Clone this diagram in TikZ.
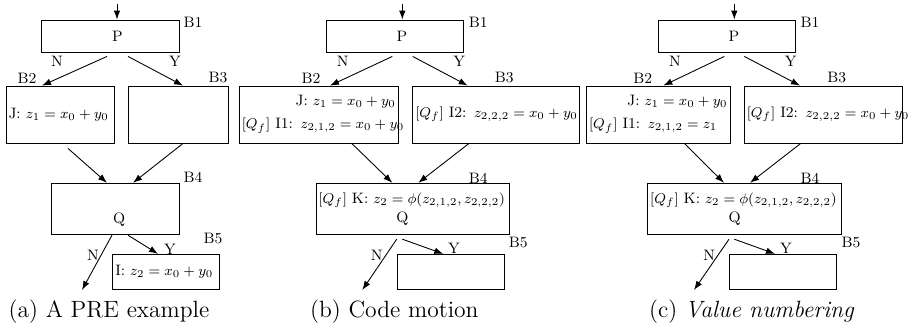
\documentclass[tikz,border=0pt]{standalone}
\usepackage{amsmath}
\usepackage{amssymb}
\usetikzlibrary{arrows.meta, calc, positioning}
\DeclareMathSizes{8.6}{8}{6}{5}
\tikzset{
  blk/.style={draw, line width=0.5pt, inner xsep=0.5mm, inner ysep=0pt, font=\fontsize{8.6}{11}\selectfont},
  blkl/.style={blk, align=left},
  blkr/.style={blk, align=right},
  arr/.style={-{Latex[length=1.8mm, width=1.3mm]}, line width=0.5pt},
  tag/.style={inner sep=0pt, font=\fontsize{8.6}{11}\selectfont},
  subcap/.style={inner sep=0pt, font=\fontsize{13.4}{16}\selectfont}
}

\begin{document}
\begin{tikzpicture}[x=0.02cm, y=-0.02cm]
  \useasboundingbox (0,0) rectangle (908,328);

  % (a) A PRE example
  \node[blk, minimum width=27.5mm, minimum height=6.4mm] (a1) at (110.3,36) {\hspace*{2.8mm}P};
  \node[blkl, text width=20.6mm, minimum height=11.4mm] (a2) at (60,114.5) {\mbox{J: $z_1 = x_0 + y_0$}};
  \node[blk, minimum width=20mm, minimum height=11.4mm] (a3) at (178,114.5) {};
  \node[blk, align=center, text width=24.5mm, minimum height=10.3mm] (a4) at (115.3,209) {\strut\\\hspace*{1.5mm}Q};
  \node[blkl, text width=20.3mm, minimum height=7mm] (a5) at (166,271.8) {\mbox{I: $z_2 = x_0 + y_0$}};
  \coordinate (a0) at (117,4);
  \coordinate (aN) at (82,290);
  \draw[arr] (a0) -- (a0 |- a1.north);
  \draw[arr] ($(a1.south)+(-3.3,4)$) -- ($(a2.north)+(-18,0)$);
  \draw[arr] ($(a1.south)+(17.7,4)$) -- ($(a3.north)+(5,0)$);
  \draw[arr] ($(a2.south)+(8,5)$) -- ($(a4.north)+(-8.3,0)$);
  \draw[arr] ($(a3.south)+(5,0)$) -- ($(a4.north)+(17.7,0)$);
  \draw[arr] ($(a4.south)+(-3.3,0)$) -- (aN);
  \draw[arr] ($(a4.south)+(12.7,0)$) -- ($(a5.north)+(-8,0)$);
  \node[tag] (aB1) at (193,22) {B1};
  \node[tag] (aB2) at (27,78) {B2};
  \node[tag] (aB3) at (218,78) {B3};
  \node[tag] (aB4) at (193,177) {B4};
  \node[tag] (aB5) at (213,239) {B5};
  \node[tag] (aN1) at (57,61) {N};
  \node[tag] (aY1) at (175,61) {Y};
  \node[tag] (aN2) at (93,255) {N};
  \node[tag] (aY2) at (170,249) {Y};
  \node[subcap] (acap) at (109,312) {(a) A PRE example};

  % (b) Code motion
  \node[blk, minimum width=27.4mm, minimum height=6.4mm] (b1) at (394.8,36) {\hspace*{2.8mm}P};
  \node[blkr, text width=30.8mm, minimum height=11.4mm] (b2) at (318.8,114.5)
    {\mbox{J: $z_1 = x_0 + y_0$}\\[2pt]\mbox{$[Q_f]$ I1: $z_{2,1,2} = x_0 + y_0$}};
  \node[blkl, text width=32.3mm, minimum height=11.4mm] (b3) at (496,114.5) {\mbox{$[Q_f]$ I2: $z_{2,2,2} = x_0 + y_0$}};
  \node[blkl, text width=37.7mm, minimum height=10.3mm] (b4) at (412.7,209)
    {\mbox{$[Q_f]$ K: $z_2 = \phi(z_{2,1,2}, z_{2,2,2})$}\\\hspace*{15.6mm}Q};
  \node[blk, minimum width=21.4mm, minimum height=7mm] (b5) at (450.8,271.8) {};
  \coordinate (b0) at (402.3,4);
  \coordinate (bN) at (362.3,290);
  \draw[arr] (b0) -- (b0 |- b1.north);
  \draw[arr] ($(b1.south)+(-2.5,4)$) -- ($(b2.north)+(11.2,0)$);
  \draw[arr] ($(b1.south)+(17.9,4)$) -- ($(b3.north)+(-28.3,0)$);
  \draw[arr] ($(b2.south)+(32.9,0)$) -- ($(b4.north)+(-20.4,0)$);
  \draw[arr] ($(b3.south)+(-27,0)$) -- ($(b4.north)+(5.6,0)$);
  \draw[arr] ($(b4.south)+(-16,4)$) -- (bN);
  \draw[arr] ($(b4.south)+(-10.4,4)$) -- ($(b5.north)+(-7.5,0)$);
  \node[tag] (bB1) at (478.3,22) {B1};
  \node[tag] (bB2) at (311,78) {B2};
  \node[tag] (bB3) at (504.3,78) {B3};
  \node[tag] (bB4) at (478.3,178) {B4};
  \node[tag] (bB5) at (518.3,243) {B5};
  \node[tag] (bN1) at (342.7,61) {N};
  \node[tag] (bY1) at (459.3,61) {Y};
  \node[tag] (bN2) at (376.7,255) {N};
  \node[tag] (bY2) at (454,248) {Y};
  \node[subcap] (bcap) at (394.3,312) {(b) Code motion};

  % (c) Value numbering
  \node[blk, minimum width=27.4mm, minimum height=6.4mm] (c1) at (727,36) {\hspace*{2.8mm}P};
  \node[blkl, text width=27.7mm, minimum height=11.4mm] (c2) at (658.3,114.5)
    {\hspace*{\fill}\mbox{J: $z_1 = x_0 + y_0$}\\[2pt]\mbox{$[Q_f]$ I1: $z_{2,1,2} = z_1$}};
  \node[blkl, text width=30.7mm, minimum height=11.4mm] (c3) at (823.5,114.5) {\mbox{$[Q_f]$ I2: $z_{2,2,2} = x_0 + y_0$}};
  \node[blkl, text width=37.8mm, minimum height=10.3mm] (c4) at (744.7,209)
    {\mbox{$[Q_f]$ K: $z_2 = \phi(z_{2,1,2}, z_{2,2,2})$}\\\hspace*{15.7mm}Q};
  \node[blk, minimum width=21.5mm, minimum height=7mm] (c5) at (783,271.8) {};
  \coordinate (c0) at (734.3,4);
  \coordinate (cN) at (694,290);
  \draw[arr] (c0) -- (c0 |- c1.north);
  \draw[arr] ($(c1.south)+(-2.7,4)$) -- ($(c2.north)+(5,0)$);
  \draw[arr] ($(c1.south)+(17.3,4)$) -- ($(c3.north)+(-23.5,0)$);
  \draw[arr] ($(c2.south)+(26,0)$) -- ($(c4.north)+(-20.7,0)$);
  \draw[arr] ($(c3.south)+(-22.8,0)$) -- ($(c4.north)+(5.3,0)$);
  \draw[arr] ($(c4.south)+(-15.7,4)$) -- (cN);
  \draw[arr] ($(c4.south)+(-10.4,4)$) -- ($(c5.north)+(-8,0)$);
  \node[tag] (cB1) at (810,22) {B1};
  \node[tag] (cB2) at (642.7,78) {B2};
  \node[tag] (cB3) at (836.7,78) {B3};
  \node[tag] (cB4) at (810,178) {B4};
  \node[tag] (cB5) at (851,243) {B5};
  \node[tag] (cN1) at (675,61) {N};
  \node[tag] (cY1) at (790.7,61) {Y};
  \node[tag] (cN2) at (709.3,255) {N};
  \node[tag] (cY2) at (786,248) {Y};
  \node[subcap] (ccap) at (751.7,312) {(c) \textit{Value numbering}};
\end{tikzpicture}
\end{document}
